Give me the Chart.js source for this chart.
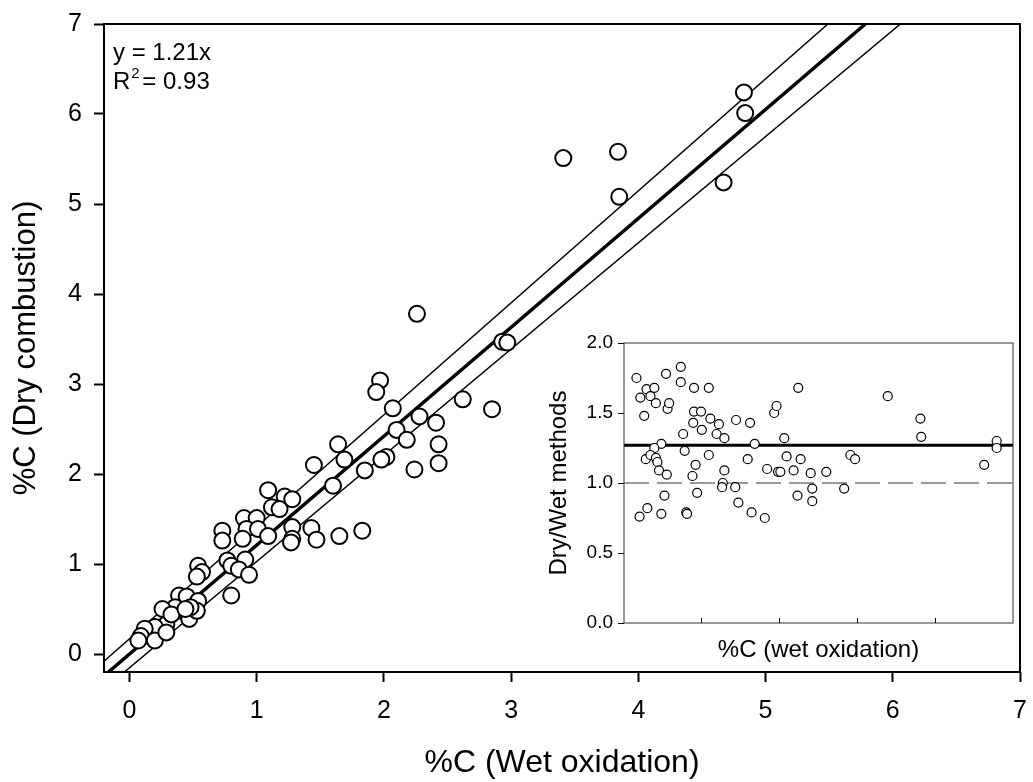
<!DOCTYPE html>
<html>
<head>
<meta charset="UTF-8">
<title>%C Dry combustion vs Wet oxidation</title>
<script src="https://cdn.jsdelivr.net/npm/chart.js"></script>
<style>
  body { margin: 0; background: #fff; }
  #wrap { position: relative; width: 1033px; height: 782px; }
  #mainChart { position: absolute; left: 0; top: 0; }
  #insetChart { position: absolute; left: 540px; top: 320px; }
</style>
</head>
<body>
<div id="wrap">
  <canvas id="mainChart" width="1033" height="782"></canvas>
  <canvas id="insetChart" width="480" height="350"></canvas>
</div>
<script>
// main panel: %C wet oxidation vs %C dry combustion
const wetC = [4.83,4.84,3.84,3.41,3.85,4.67,2.26,2.93,2.97,1.97,1.94,2.07,2.62,2.85,2.10,2.28,2.41,2.18,2.43,2.43,
  2.24,2.02,1.98,1.85,1.69,1.64,1.45,1.60,1.09,1.22,1.28,1.12,1.18,0.90,1.00,0.92,1.01,0.89,0.73,0.73,
  1.09,1.28,1.28,1.27,1.43,1.47,1.65,1.83,0.54,0.57,0.53,0.77,0.91,0.80,0.86,0.94,0.80,0.39,0.45,0.54,
  0.38,0.42,0.36,0.47,0.53,0.26,0.29,0.20,0.12,0.09,0.07,0.20,0.29,0.48,0.33,0.44];
const dryC = [6.24,6.01,5.58,5.51,5.08,5.24,3.78,3.47,3.46,3.04,2.91,2.73,2.83,2.72,2.49,2.64,2.57,2.38,2.33,2.12,
  2.05,2.19,2.16,2.04,2.16,2.33,2.10,1.87,1.82,1.75,1.72,1.63,1.61,1.51,1.51,1.39,1.39,1.28,1.37,1.26,
  1.31,1.41,1.28,1.24,1.40,1.27,1.31,1.37,0.98,0.91,0.86,1.04,1.05,0.98,0.94,0.88,0.65,0.65,0.64,0.59,
  0.48,0.49,0.52,0.39,0.48,0.50,0.33,0.30,0.28,0.20,0.15,0.15,0.24,0.52,0.44,0.50];

// regression line y = 1.21x and its band, end points on the frame
const fitX = [-0.165, 5.785];
const fitY = [-0.2, 7];
const upperX = [-0.2, 5.49];
const upperY = [-0.08, 7];
const lowerX = [-0.04, 6.06];
const lowerY = [-0.2, 7];

const mainTicksX = [0, 1, 2, 3, 4, 5, 6, 7];
const mainTicksY = [0, 1, 2, 3, 4, 5, 6, 7];
const eqText = 'y = 1.21x';
const r2Text = '= 0.93';

// inset: Dry/Wet ratio vs %C (wet oxidation)
const insetX = [0.16,0.21,0.26,0.29,0.34,0.39,0.41,0.54,0.56,0.58,0.73,0.73,0.90,1.09,0.76,0.89,0.90,0.99,1.00,1.11,
  1.22,1.19,1.29,1.44,1.62,1.68,1.93,1.96,2.06,2.24,3.39,3.81,3.82,4.79,4.79,4.63,0.48,0.39,0.28,0.34,
  0.41,0.43,0.45,0.55,0.78,1.09,0.92,0.88,1.29,1.59,1.84,1.98,2.01,2.09,2.18,2.27,2.40,2.60,2.91,2.97,
  1.27,1.26,1.43,0.52,0.94,1.47,2.23,2.42,2.42,2.83,0.20,0.30,0.48,0.80,0.81,1.64,1.81];
const insetRatio = [1.75,1.61,1.48,1.67,1.62,1.68,1.57,1.78,1.53,1.57,1.83,1.72,1.68,1.68,1.35,1.43,1.51,1.51,1.38,1.46,
  1.42,1.35,1.32,1.45,1.43,1.28,1.50,1.55,1.32,1.68,1.62,1.46,1.33,1.30,1.25,1.13,1.28,1.25,1.17,1.20,
  1.18,1.15,1.09,1.06,1.23,1.20,1.13,1.05,1.09,1.17,1.10,1.08,1.08,1.19,1.09,1.17,1.07,1.08,1.20,1.17,
  1.00,0.97,0.97,0.91,0.93,0.86,0.91,0.96,0.87,0.96,0.76,0.82,0.78,0.79,0.78,0.79,0.75];
const meanX = [0, 5];
const meanY = [1.27, 1.27];
const unityX = [0, 5];
const unityY = [1, 1];
const insetTicksX = [1, 2, 3, 4];
const insetTicksY = [0, 0.5, 1, 1.5, 2];

const FONT = 'Arial, "Liberation Sans", sans-serif';
const pts = (xs, ys) => xs.map((x, i) => ({ x: x, y: ys[i] }));

// layout is fixed by the padding options only, not by label overhang
const noPad = s => { s.paddingLeft = 0; s.paddingRight = 0; s.paddingTop = 0; s.paddingBottom = 0; };

const frame = {
  id: 'frame',
  afterDatasetsDraw(chart, args, opts) {
    const a = chart.chartArea;
    const ctx = chart.ctx;
    ctx.save();
    ctx.strokeStyle = opts.color || '#000';
    ctx.lineWidth = opts.width || 2;
    ctx.strokeRect(a.left, a.top, a.right - a.left, a.bottom - a.top);
    ctx.restore();
  }
};

const equation = {
  id: 'equation',
  afterDraw(chart) {
    const ctx = chart.ctx;
    const x = chart.chartArea.left + 9;
    ctx.save();
    ctx.fillStyle = '#000';
    ctx.textBaseline = 'alphabetic';
    ctx.font = '24px ' + FONT;
    ctx.fillText(eqText, x, 60);
    ctx.fillText('R', x, 89);
    const w = ctx.measureText('R').width;
    ctx.font = '15px ' + FONT;
    ctx.fillText('2', x + w + 1, 78);
    ctx.font = '24px ' + FONT;
    ctx.fillText(r2Text, x + w + 12, 89);
    ctx.restore();
  }
};

const lineSet = (xs, ys, width, dash) => ({
  type: 'line',
  data: pts(xs, ys),
  showLine: true,
  borderColor: '#000',
  borderWidth: width,
  borderDash: dash || [],
  pointRadius: 0,
  fill: false,
  order: 2
});

new Chart(document.getElementById('mainChart'), {
  type: 'scatter',
  data: {
    datasets: [
      {
        data: pts(wetC, dryC),
        pointRadius: 8,
        pointHoverRadius: 8,
        pointBackgroundColor: '#fff',
        pointBorderColor: '#000',
        pointBorderWidth: 2,
        order: 0
      },
      lineSet(fitX, fitY, 3.5),
      lineSet(upperX, upperY, 1.5),
      lineSet(lowerX, lowerY, 1.5)
    ]
  },
  options: {
    responsive: false,
    animation: false,
    layout: { padding: { top: 24, right: 13, left: 0, bottom: 0 } },
    plugins: { legend: { display: false }, tooltip: { enabled: false }, frame: { width: 2 } },
    scales: {
      x: {
        type: 'linear', min: -0.2, max: 7,
        afterBuildTicks: s => { s.ticks = mainTicksX.map(v => ({ value: v })); },
        afterFit: s => { s.height = 110; noPad(s); },
        border: { display: false },
        grid: { drawOnChartArea: false, drawTicks: true, tickLength: 10, tickColor: '#000', tickWidth: 2 },
        ticks: { color: '#000', font: { family: FONT, size: 25 }, padding: 14, autoSkip: false, maxRotation: 0 },
        title: { display: true, text: '%C (Wet oxidation)', color: '#000', font: { family: FONT, size: 32 }, padding: { top: 0, bottom: 0 } }
      },
      y: {
        type: 'linear', min: -0.2, max: 7,
        afterBuildTicks: s => { s.ticks = mainTicksY.map(v => ({ value: v })); },
        afterFit: s => { s.width = 104; noPad(s); },
        border: { display: false },
        grid: { drawOnChartArea: false, drawTicks: true, tickLength: 10, tickColor: '#000', tickWidth: 2 },
        ticks: { color: '#000', font: { family: FONT, size: 25 }, padding: 12, autoSkip: false },
        title: { display: true, text: '%C (Dry combustion)', color: '#000', font: { family: FONT, size: 31 }, padding: { top: 8, bottom: 0 } }
      }
    }
  },
  plugins: [frame, equation]
});

new Chart(document.getElementById('insetChart'), {
  type: 'scatter',
  data: {
    datasets: [
      {
        data: pts(insetX, insetRatio),
        pointRadius: 4.5,
        pointHoverRadius: 4.5,
        pointBackgroundColor: '#fff',
        pointBorderColor: '#000',
        pointBorderWidth: 1.2,
        order: 0
      },
      lineSet(meanX, meanY, 3),
      Object.assign(lineSet(unityX, unityY, 1, [25, 8]), { borderColor: '#333' })
    ]
  },
  options: {
    responsive: false,
    animation: false,
    layout: { padding: { top: 23, right: 7, left: 0, bottom: 0 } },
    plugins: { legend: { display: false }, tooltip: { enabled: false }, frame: { width: 1, color: '#333' } },
    scales: {
      x: {
        type: 'linear', min: 0, max: 5,
        afterBuildTicks: s => { s.ticks = insetTicksX.map(v => ({ value: v })); },
        afterFit: s => { s.height = 47; noPad(s); },
        border: { display: false },
        grid: { drawOnChartArea: false, drawTicks: true, tickLength: -5, tickColor: '#000', tickWidth: 1 },
        ticks: { callback: () => '', autoSkip: false },
        title: { display: true, text: '%C (wet oxidation)', color: '#000', font: { family: FONT, size: 24 }, padding: { top: 0, bottom: 5 } }
      },
      y: {
        type: 'linear', min: 0, max: 2,
        afterBuildTicks: s => { s.ticks = insetTicksY.map(v => ({ value: v })); },
        afterFit: s => { s.width = 84; noPad(s); },
        border: { display: false },
        grid: { drawOnChartArea: false, drawTicks: true, tickLength: 6, tickColor: '#000', tickWidth: 1 },
        ticks: { color: '#000', font: { family: FONT, size: 19 }, padding: 5, autoSkip: false, callback: v => v.toFixed(1) },
        title: { display: true, text: 'Dry/Wet methods', color: '#000', font: { family: FONT, size: 24 }, padding: { top: 5, bottom: 0 } }
      }
    }
  },
  plugins: [frame]
});
</script>
</body>
</html>
